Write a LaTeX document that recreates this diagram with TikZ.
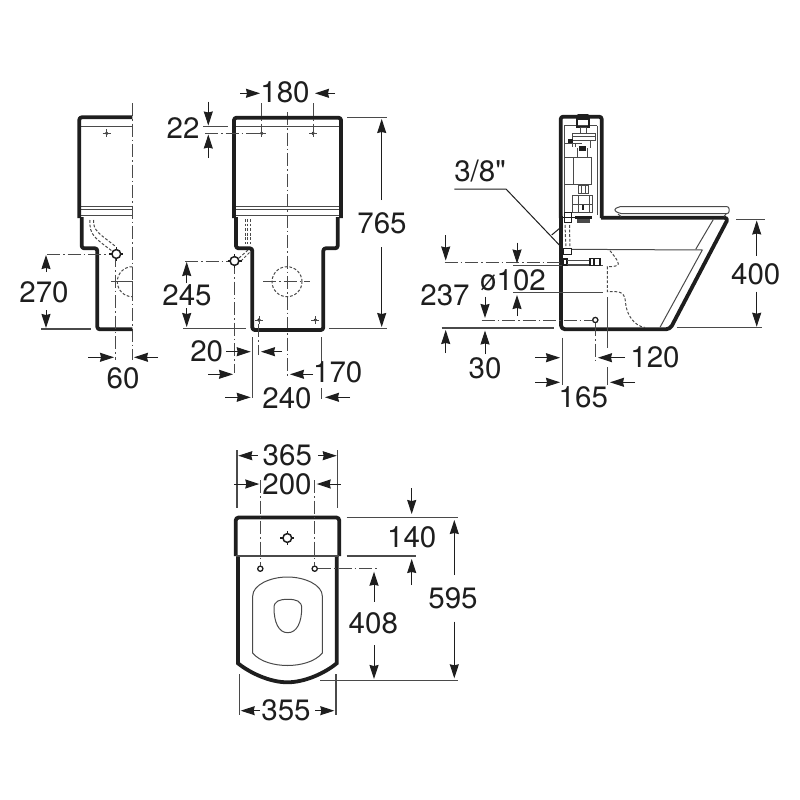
\documentclass[tikz,border=0pt]{standalone}
\usepackage{fontspec}
\newfontfamily\labelfont{TeX Gyre Heros}
\usetikzlibrary{arrows.meta}
\definecolor{ink}{HTML}{1E1E1E}
\definecolor{soft}{HTML}{4A4A4A}
\tikzset{
  heavy/.style={draw=ink,line width=3.8pt,line join=round,line cap=butt,rounded corners=2.5pt},
  fine/.style={draw=soft,line width=1pt},
  extline/.style={draw=soft,line width=1.1pt},
  centre/.style={draw=soft,line width=1pt,dash pattern=on 13pt off 3pt on 1.5pt off 3pt},
  hidden/.style={draw=soft,line width=1pt,dash pattern=on 2.8pt off 1.8pt},
  dim/.style={draw=ink,line width=1pt,-{Stealth[length=14pt,width=9pt,inset=1pt]}},
  lbl/.style={inner sep=0pt,text=ink,font=\labelfont\fontsize{29.5}{31}\selectfont},
}
\newcommand{\cross}[2]{%
  \fill[ink] (#1,#2) circle (1.8pt);
  \draw[fine] (#1-4,#2) -- (#1+4,#2) (#1,#2-4) -- (#1,#2+4);}
\newcommand{\ring}[2]{%
  \draw[ink,line width=1.3pt,fill=white] (#1,#2) circle (2.6pt);}
\newcommand{\portmark}[2]{%
  \draw[ink,line width=1.2pt] (#1-7,#2) -- (#1+7,#2) (#1,#2-7) -- (#1,#2+7);
  \draw[ink,line width=1.5pt,fill=white] (#1,#2) circle (4.4pt);}
\begin{document}
\begin{tikzpicture}[x=1pt,y=-1pt]
\useasboundingbox (0,0) rectangle (800,800);
\fill[white] (0,0) rectangle (800,800);

% ===== left (end) view
\draw[centre] (132.3,103) -- (132.3,360);
\draw[fine] (81,126) -- (132,126) (81,206.7) -- (132,206.7) (81,209) -- (132,209) (81,215.7) -- (132,215.7);
\draw[heavy] (132.3,117.3) -- (79.3,117.3) -- (79.3,218);
\draw[heavy] (81.7,217) -- (81.7,248.3) -- (97.3,248.3) -- (97.3,329.3) -- (132.3,329.3);
\draw[hidden] (90,220) .. controls (89,235) and (95,238) .. (112,251);
\draw[hidden] (93.5,220) .. controls (93,231) and (100,234) .. (115,246);
\cross{106.7}{133.3}
\draw[centre] (47,254) -- (112,254);
\draw[centre] (115.7,254) -- (115.7,360);
\portmark{116.3}{254}
\draw[hidden] (132.3,266.7) .. controls (124,266.7) and (117.3,273.4) .. (117.3,281.7) .. controls (117.3,290) and (124,296.7) .. (132.3,296.7);
\draw[fine] (118,281.7) -- (132.3,281.7) -- (132.3,296);
\draw[centre] (111,281.7) -- (118,281.7);
\draw[extline] (41,329) -- (91,329);
\draw[dim] (46,272) -- (46,255);
\draw[dim] (46,310) -- (46,328);
\node[lbl] (l270) at (44,292) {270};
\draw[dim] (88,357.3) -- (114,357.3);
\draw[dim] (158,357.3) -- (134,357.3);
\node[lbl] (l60) at (123,378) {60};

% ===== middle (front) view
\draw[centre] (287.3,112) -- (287.3,378);
\draw[fine] (236,126.7) -- (339,126.7) (236,206.7) -- (339,206.7) (236,209) -- (339,209) (236,215.7) -- (339,215.7);
\draw[heavy] (234,218) -- (234,117.7) -- (341,117.7) -- (341,218);
\draw[heavy] (236,217) -- (236,248.3) -- (252.3,248.3) -- (252.3,330) -- (323.3,330) -- (323.3,248.3) -- (337.7,248.3) -- (337.7,217);
\draw[hidden] (245,219) -- (245,244) (247.5,219) -- (247.5,244) (250,219) -- (250,244);
\draw[hidden] (239,258) -- (248,250) (241,261) -- (250,252);
\draw[centre] (261.3,103) -- (261.3,131);
\draw[centre] (313,103) -- (313,131);
\cross{261.7}{133.3}
\cross{313}{133.3}
\draw[centre] (205,133.3) -- (258,133.3);
\draw[extline] (203,126.7) -- (228,126.7);
\draw[dim] (208.3,101.7) -- (208.3,125.5);
\draw[dim] (208.3,158) -- (208.3,134.5);
\node[lbl] (l22) at (183,128) {22};
\draw[dim] (240,93.3) -- (260,93.3);
\draw[dim] (335,93.3) -- (315,93.3);
\node[lbl] (l180) at (285,92) {180};
\draw[extline] (347,117.7) -- (387,117.7);
\draw[extline] (329,328.3) -- (387,328.3);
\draw[dim] (381.7,200) -- (381.7,119);
\draw[dim] (381.7,247) -- (381.7,327);
\node[lbl] (l765) at (382,223) {765};
\draw[centre] (185,261) -- (230,261);
\draw[centre] (234.7,261) -- (234.7,373);
\portmark{234.5}{261}
\draw[dim] (186.7,283) -- (186.7,262);
\draw[dim] (186.7,308) -- (186.7,327);
\node[lbl] (l245) at (187,295) {245};
\draw[extline] (183,328.3) -- (246,328.3);
\draw[hidden] (287,281.7) circle (15pt);
\draw[centre] (263,281.7) -- (310,281.7);
\cross{259}{320}
\cross{315.3}{320}
\draw[centre] (258.7,324) -- (258.7,355);
\draw[dim] (226,351.7) -- (250.7,351.7);
\draw[dim] (281.7,351.7) -- (261,351.7);
\node[lbl] (l20) at (206.7,351.7) {20};
\draw[extline] (252.7,337) -- (252.7,398);
\draw[extline] (321.7,337) -- (321.7,382) (321.7,388) -- (321.7,399);
\draw[dim] (208,374.3) -- (233,374.3);
\draw[dim] (313,374.3) -- (290,374.3);
\node[lbl] (l170) at (337.7,372) {170};
\draw[dim] (225,397.3) -- (250.7,397.3);
\draw[dim] (350,397.3) -- (325,397.3);
\node[lbl] (l240) at (287,398) {240};

% ===== right (side) view
\draw[heavy] (560.7,218) -- (560.7,116.7) -- (601.7,116.7) -- (601.7,218);
\draw[heavy,rounded corners=4pt] (601,217.7) -- (728.5,217.7) -- (670,329.3) -- (561,329.3) -- (561,216);
% seat
\draw[fine,rounded corners=2pt] (618,206.7) -- (729,206.7) -- (729,213.5) -- (619,213.5) -- (614,210) -- cycle;
\draw[fine] (618,214) -- (621,216.5) (726,214) -- (724,216.5);
% bowl lines
\draw[fine] (570,249.3) -- (702.3,250) -- (660,327.3);
\draw[fine] (713.3,219.5) -- (695.7,249.3);
\draw[hidden] (610,250.7) .. controls (614,256) and (618,260) .. (618.3,264) .. controls (618,266) and (614,266.7) .. (607.3,266.7) -- (607.3,291.7) -- (616,291.7) .. controls (624,292) and (625,297) .. (625.5,302) .. controls (626,314) and (634,326) .. (645,327.5);
\draw[extline] (513,265.7) -- (603,265.7) (513,292.7) -- (603,292.7);
\draw[extline] (607.3,297) -- (607.3,348) (607.3,367) -- (607.3,385);
\draw[centre] (444.7,262) -- (563,262);
% rod
\draw[ink,line width=1.1pt] (563,259) rectangle (567,265);
\draw[soft,line width=1pt] (567,260) -- (590,260) (567,264) -- (590,264);
\draw[ink,line width=1.1pt] (590,258.5) rectangle (600,265.5) (594,258.5) -- (594,265.5);
% dashed supply
\draw[hidden] (565,225) -- (566,249) (569.5,225) -- (570,249);
\draw[fill=white,draw=ink,line width=.9pt] (563.5,248.5) rectangle (571,254.5);
% cistern fittings
\draw[fine] (564,125.7) -- (564,213) (597,125.7) -- (597,215) (564,125.7) -- (597,125.7);
\draw[fine] (564,157.3) rectangle (591.7,184) (573.3,157.3) -- (573.3,184);
\draw[ink,line width=1.1pt] (577,119) rectangle (589,127);
\draw[ink,line width=1.4pt,line cap=round] (578,114.5) -- (588,114.5);
\draw[fine] (580,127) rectangle (586,133);
\draw[fine] (572,133) rectangle (595,140) (572,136.5) -- (595,136.5);
\draw[fine] (565,143) -- (582,143) (572,140) -- (572,147) (575,143) -- (575,147) (590,140) -- (590,148) (577,148) -- (577,157.3) (587,148) -- (587,157.3);
\fill[ink] (579,146) rectangle (586,151);
\fill[ink] (568,139) rectangle (573,143);
\draw[fine] (578,185) rectangle (588,193) (581,184) -- (581,193) (585,184) -- (585,193);
\draw[fine] (572,195) rectangle (592,212) (572,204) -- (592,204) (578,195) -- (578,212) (589,195) -- (589,212);
\fill[ink] (582,205) rectangle (584,210);
\draw[ink,line width=1pt] (564,212) rectangle (571,222);
\draw[ink,line width=1pt] (562,217.5) -- (575,217.5);
\fill[ink] (575,215.5) rectangle (592,219);
\fill[soft] (577,219) rectangle (590,223);
% label 3/8
\draw[draw=ink,line width=1pt] (454.3,189) -- (506,189) -- (559.3,245);
\draw[draw=ink,line width=1pt] (551.7,235) -- (560,228);
\node[lbl] (l38) at (480,171) {3/8"};
\draw[dim] (445.7,235) -- (445.7,260.5);
\draw[dim] (445.7,353) -- (445.7,330);
\node[lbl] (l237) at (445,295) {237};
\draw[extline] (441.7,328) -- (554,328);
\draw[dim] (517,242.7) -- (517,263.5);
\draw[dim] (517,316) -- (517,295);
\node[lbl] (l102) at (513,280) {ø102};
\draw[dim] (485,296.7) -- (485,318);
\draw[dim] (485,354) -- (485,330.5);
\node[lbl] (l30) at (485,368) {30};
\draw[centre] (481.7,320) -- (592,320);
\ring{595.3}{320}
\draw[centre] (595.3,323) -- (595.3,360);
\draw[extline] (562.3,337.7) -- (562.3,385);
\draw[dim] (535,357.7) -- (560,357.7);
\draw[dim] (625,357.7) -- (598,357.7);
\node[lbl] (l120) at (655,357) {120};
\draw[dim] (535,382.3) -- (560,382.3);
\draw[dim] (635,382.3) -- (610,382.3);
\node[lbl] (l165) at (583.3,397) {165};
\draw[extline] (736,219.3) -- (765,219.3);
\draw[extline] (676.7,327.7) -- (762,327.7);
\draw[dim] (756.7,255.7) -- (756.7,220.5);
\draw[dim] (756.7,291.7) -- (756.7,326.7);
\node[lbl] (l400) at (755.7,274) {400};

% ===== plan view
\draw[fine] (252.7,653) -- (252.7,596) .. controls (252.7,585) and (270,577) .. (287.5,577) .. controls (305,577) and (322.3,585) .. (322.3,596) -- (322.3,653) .. controls (315,662) and (300,665.5) .. (287.5,665.5) .. controls (275,665.5) and (260,662) .. (252.7,653) -- cycle;
\draw[fine] (287.8,599.3) .. controls (296,599.3) and (301.7,601) .. (301.7,608) .. controls (301.7,622) and (297,632.7) .. (287.8,632.7) .. controls (278.5,632.7) and (274,622) .. (274,608) .. controls (274,601) and (279.5,599.3) .. (287.8,599.3) -- cycle;
\draw[draw=ink,line width=3.8pt] (238,556) -- (238,663.3) .. controls (250,673) and (270,682.3) .. (287.3,682.3) .. controls (305,682.3) and (325,673) .. (336.7,663.3) -- (336.7,556);
\draw[heavy,rounded corners=3pt] (235.7,556) -- (235.7,517.5) -- (339.3,517.5) -- (339.3,556);
\draw[draw=soft,line width=1.4pt] (236,556) -- (339,556);
\portmark{287.3}{538}
\ring{260.3}{568.7}
\ring{314.7}{568.7}
\draw[centre] (260.3,480) -- (260.3,565.5);
\draw[centre] (314.7,480) -- (314.7,565.5);
\draw[centre] (318,568.7) -- (378.3,568.7);
\draw[extline] (237,450) -- (237,508);
\draw[extline] (337.7,450) -- (337.7,508);
\draw[dim] (257.7,455.7) -- (238.3,455.7);
\draw[dim] (318.3,455.7) -- (336.7,455.7);
\node[lbl] (l365) at (287.3,455) {365};
\draw[dim] (234,484) -- (259.3,484);
\draw[dim] (340.7,484) -- (316.7,484);
\node[lbl] (l200) at (287,484) {200};
\draw[extline] (346.7,517.5) -- (457.7,517.5);
\draw[extline] (346.7,556) -- (415.7,556);
\draw[dim] (411.7,488) -- (411.7,514);
\draw[dim] (411.7,585) -- (411.7,559);
\node[lbl] (l140) at (411.7,537.7) {140};
\draw[dim] (454.3,575) -- (454.3,520);
\draw[dim] (454.3,621.7) -- (454.3,678.3);
\node[lbl] (l595) at (453,598) {595};
\draw[extline] (320,680.7) -- (457.7,680.7);
\draw[dim] (374,601.7) -- (374,571.7);
\draw[dim] (374,645) -- (374,679);
\node[lbl] (l408) at (373.3,623) {408};
\draw[extline] (239.3,674.3) -- (239.3,715);
\draw[extline] (336,674.3) -- (336,715);
\draw[dim] (260,710.7) -- (240.7,710.7);
\draw[dim] (315,710.7) -- (334.3,710.7);
\node[lbl] (l355) at (286,710) {355};
\end{tikzpicture}
\end{document}
